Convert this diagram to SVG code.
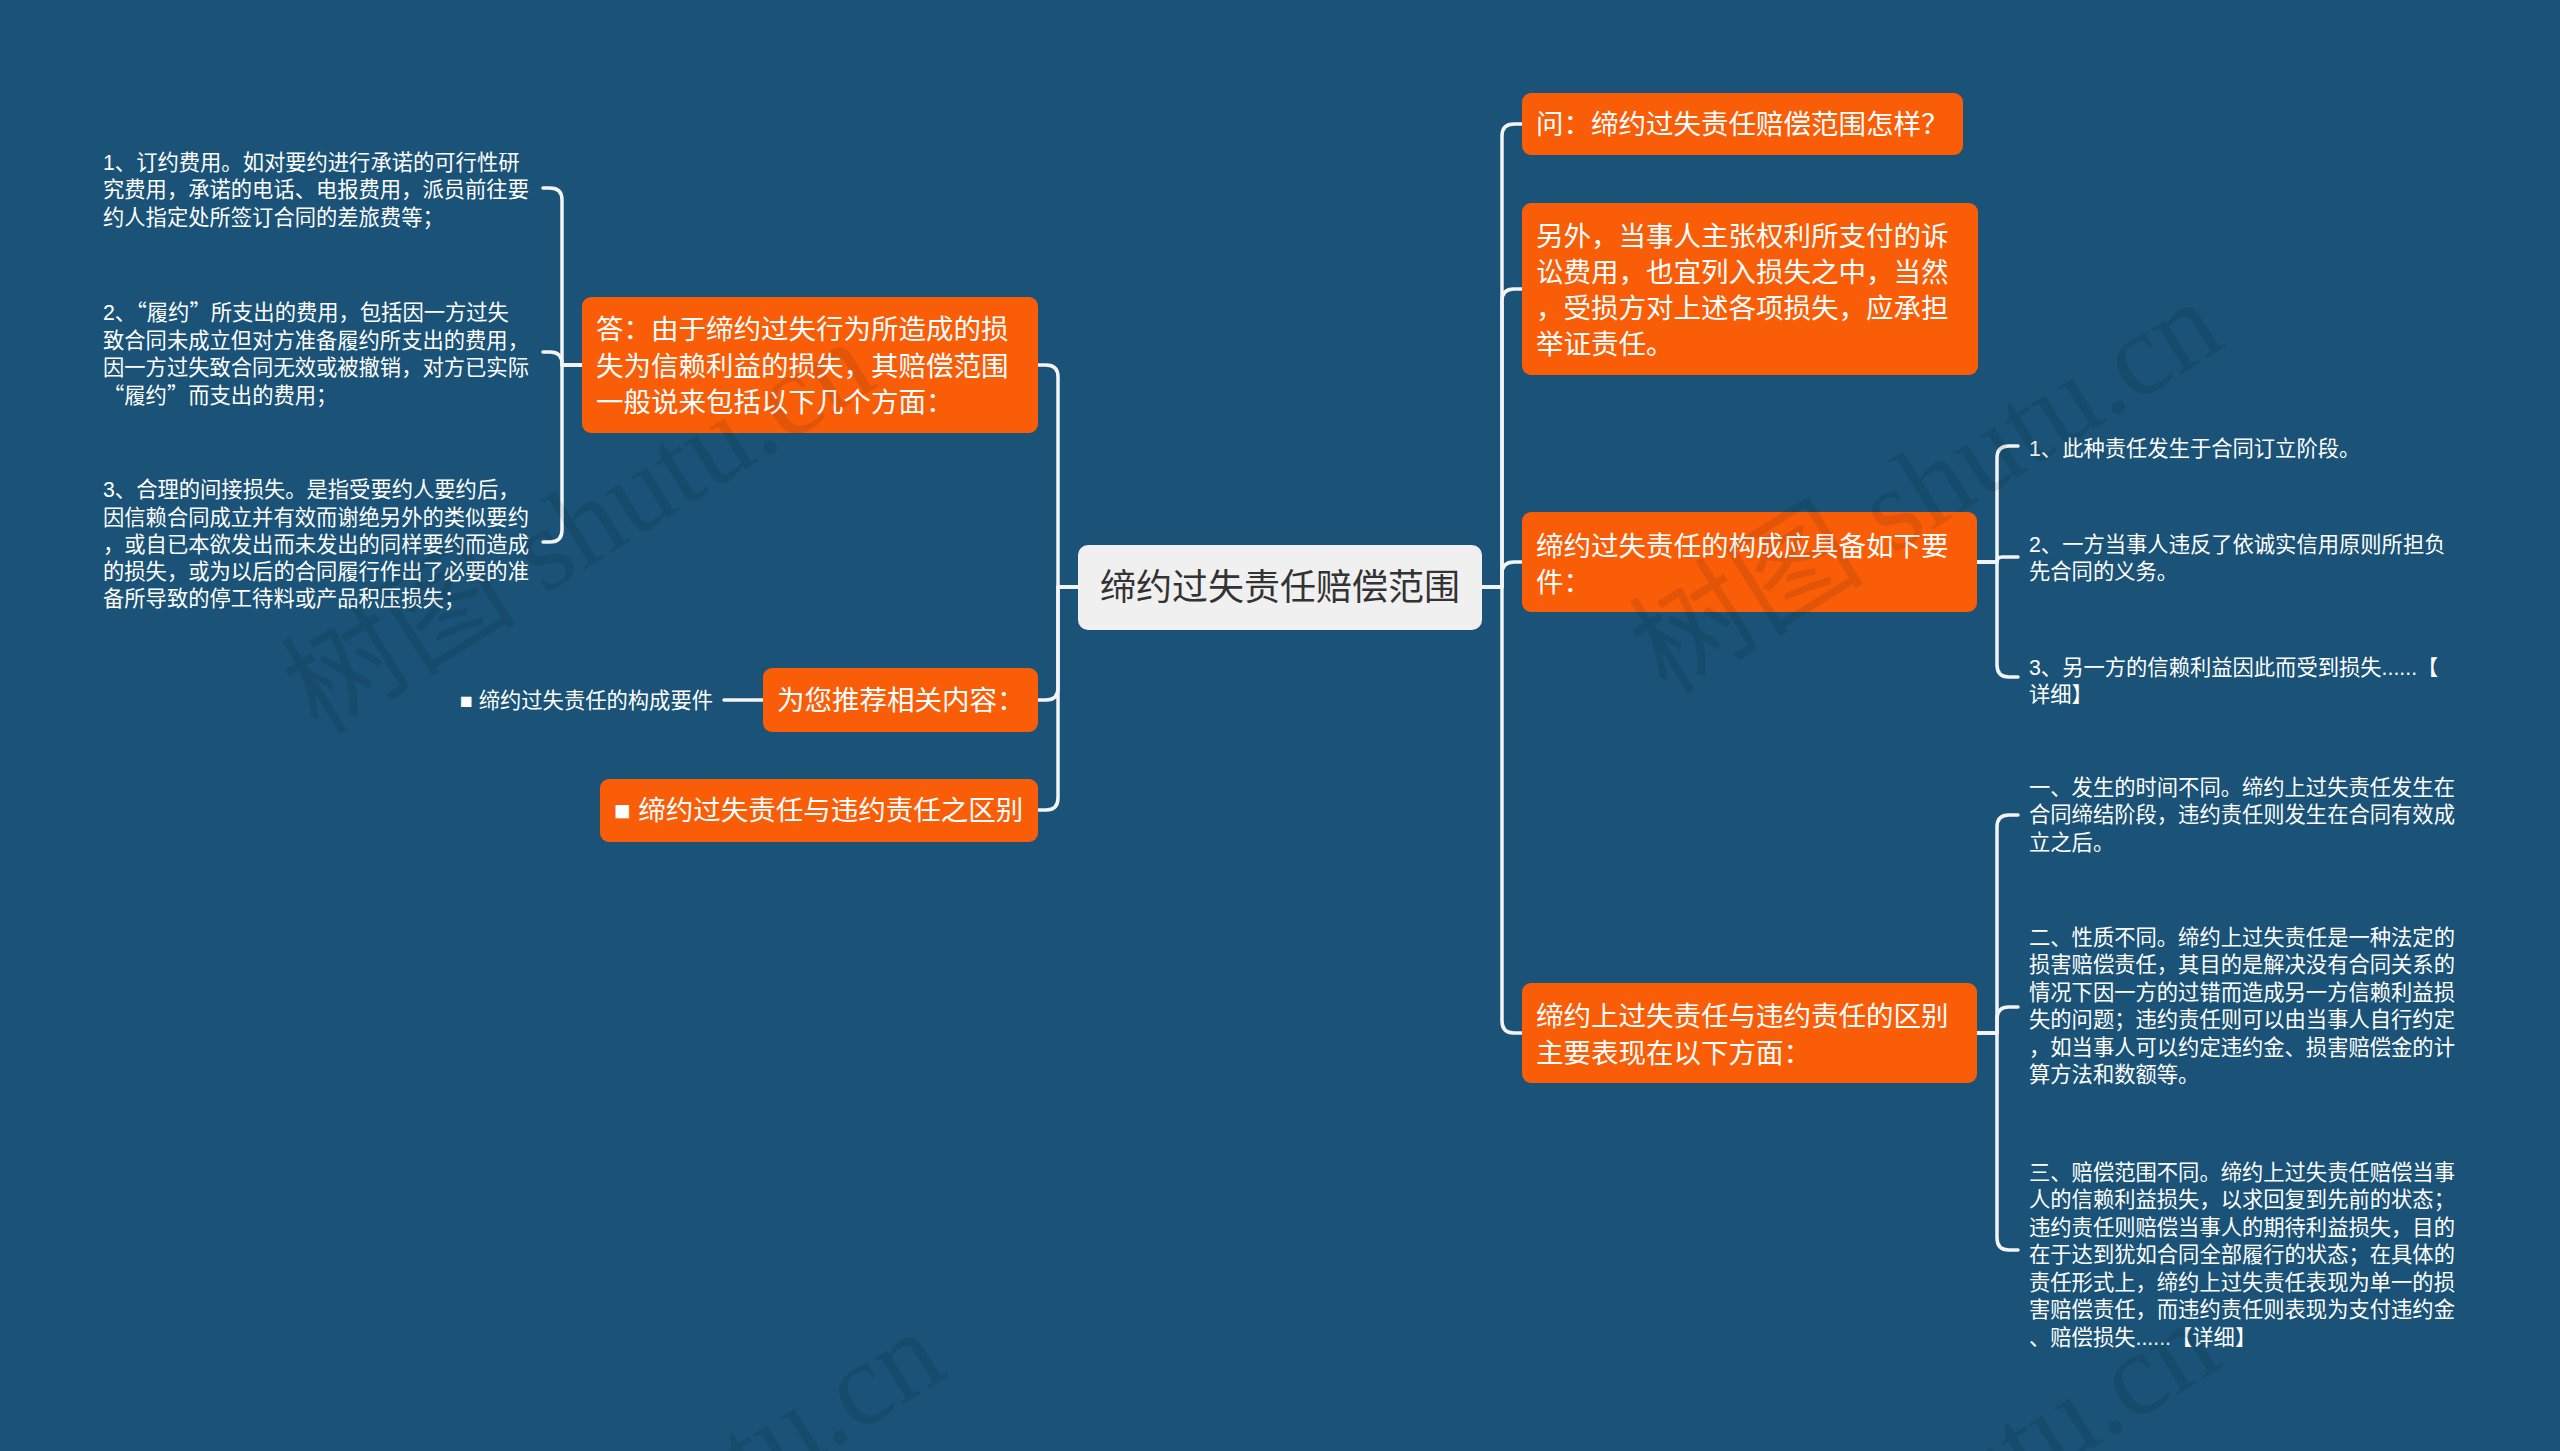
<svg xmlns="http://www.w3.org/2000/svg" width="2560" height="1451" viewBox="0 0 2560 1451">
<style>
.c{fill:none;stroke:#f2f4f6;stroke-width:3.5;stroke-linecap:round;stroke-linejoin:round}
.box{fill:#f95d08}
.t{font-family:"Liberation Sans","Noto Sans CJK SC",sans-serif;font-size:27.5px;fill:#ffffff}
.s{font-family:"Liberation Sans","Noto Sans CJK SC",sans-serif;font-size:21.3px;fill:#ffffff}
.q{font-family:"Noto Sans CJK SC",sans-serif}
.r{font-family:"Liberation Sans","Noto Sans CJK SC",sans-serif;font-size:36px;fill:#333333}
.wm{font-family:"Liberation Serif","Noto Sans CJK SC",serif;font-size:118px;fill:#000000;fill-opacity:0.09}
</style>
<rect x="0" y="0" width="2560" height="1451" fill="#1a5377"/>

<g id="connectors">
<path class="c" d="M1482,587 H1502 V136 Q1502,124 1514,124 H1522"/>
<path class="c" d="M1482,587 H1502 V301 Q1502,289 1514,289 H1522"/>
<path class="c" d="M1482,587 H1502 V574 Q1502,562 1514,562 H1522"/>
<path class="c" d="M1482,587 H1502 V1021 Q1502,1033 1514,1033 H1522"/>
<path class="c" d="M1078,587 H1058 V377 Q1058,365 1046,365 H1038"/>
<path class="c" d="M1078,587 H1058 V688 Q1058,700 1046,700 H1038"/>
<path class="c" d="M1078,587 H1058 V798 Q1058,810 1046,810 H1038"/>
<path class="c" d="M582,365 H562 V200 Q562,188 550,188 H543"/>
<path class="c" d="M582,365 H562 V364 Q562,352 550,352 H543"/>
<path class="c" d="M582,365 H562 V530 Q562,542 550,542 H543"/>
<path class="c" d="M763,700 H724"/>
<path class="c" d="M1977,562 H1997 V458 Q1997,446 2009,446 H2018"/>
<path class="c" d="M1977,562 H1997 Q1997,557 2002,557 H2018"/>
<path class="c" d="M1977,562 H1997 V665 Q1997,677 2009,677 H2018"/>
<path class="c" d="M1977,1033 H1997 V827 Q1997,815 2009,815 H2018"/>
<path class="c" d="M1977,1033 H1997 V1019 Q1997,1007 2009,1007 H2018"/>
<path class="c" d="M1977,1033 H1997 V1238 Q1997,1250 2009,1250 H2018"/>
</g>

<g id="root">
<rect x="1078" y="545" width="404" height="85" rx="10" fill="#f0f0f0"/>
<text class="r" x="1280" y="600" text-anchor="middle">缔约过失责任赔偿范围</text>
</g>

<g id="answer">
<rect class="box" x="582" y="297" width="456" height="136" rx="9"/>
<text class="t" x="596" y="339">答：由于缔约过失行为所造成的损</text>
<text class="t" x="596" y="376">失为信赖利益的损失，其赔偿范围</text>
<text class="t" x="596" y="412">一般说来包括以下几个方面：</text>
</g>

<g id="a1">
<text class="s" x="103" y="169.5">1、订约费用。如对要约进行承诺的可行性研</text>
<text class="s" x="103" y="197">究费用，承诺的电话、电报费用，派员前往要</text>
<text class="s" x="103" y="224.5">约人指定处所签订合同的差旅费等；</text>
</g>
<g id="a2">
<text class="s" x="103" y="320">2、<tspan class="q">“</tspan>履约<tspan class="q">”</tspan>所支出的费用，包括因一方过失</text>
<text class="s" x="103" y="347.5">致合同未成立但对方准备履约所支出的费用，</text>
<text class="s" x="103" y="375">因一方过失致合同无效或被撤销，对方已实际</text>
<text class="s" x="103" y="402.5"><tspan class="q">“</tspan>履约<tspan class="q">”</tspan>而支出的费用；</text>
</g>
<g id="a3">
<text class="s" x="103" y="497">3、合理的间接损失。是指受要约人要约后，</text>
<text class="s" x="103" y="524.5">因信赖合同成立并有效而谢绝另外的类似要约</text>
<text class="s" x="103" y="552">，或自已本欲发出而未发出的同样要约而造成</text>
<text class="s" x="103" y="579">的损失，或为以后的合同履行作出了必要的准</text>
<text class="s" x="103" y="606">备所导致的停工待料或产品积压损失；</text>
</g>

<g id="recommend">
<rect class="box" x="763" y="668" width="275" height="64" rx="9"/>
<text class="t" x="777" y="710">为您推荐相关内容：</text>
</g>
<g id="rec1">
<text class="s" x="713" y="708" text-anchor="end">■ 缔约过失责任的构成要件</text>
</g>
<g id="diff-link">
<rect class="box" x="600" y="779" width="438" height="63" rx="9"/>
<text class="t" x="614" y="820">■ 缔约过失责任与违约责任之区别</text>
</g>

<g id="question">
<rect class="box" x="1522" y="93" width="441" height="62" rx="9"/>
<text class="t" x="1536" y="134">问：缔约过失责任赔偿范围怎样？</text>
</g>

<g id="extra">
<rect class="box" x="1522" y="203" width="456" height="172" rx="9"/>
<text class="t" x="1536" y="246">另外，当事人主张权利所支付的诉</text>
<text class="t" x="1536" y="282">讼费用，也宜列入损失之中，当然</text>
<text class="t" x="1536" y="318">，受损方对上述各项损失，应承担</text>
<text class="t" x="1536" y="354">举证责任。</text>
</g>

<g id="elements">
<rect class="box" x="1522" y="512" width="455" height="100" rx="9"/>
<text class="t" x="1536" y="556">缔约过失责任的构成应具备如下要</text>
<text class="t" x="1536" y="592">件：</text>
</g>
<g id="e1">
<text class="s" x="2029" y="455.5">1、此种责任发生于合同订立阶段。</text>
</g>
<g id="e2">
<text class="s" x="2029" y="551.5">2、一方当事人违反了依诚实信用原则所担负</text>
<text class="s" x="2029" y="579">先合同的义务。</text>
</g>
<g id="e3">
<text class="s" x="2029" y="674.5">3、另一方的信赖利益因此而受到损失......【</text>
<text class="s" x="2029" y="702">详细】</text>
</g>

<g id="difference">
<rect class="box" x="1522" y="983" width="455" height="100" rx="9"/>
<text class="t" x="1536" y="1026">缔约上过失责任与违约责任的区别</text>
<text class="t" x="1536" y="1063">主要表现在以下方面：</text>
</g>
<g id="d1">
<text class="s" x="2029" y="794.5">一、发生的时间不同。缔约上过失责任发生在</text>
<text class="s" x="2029" y="822">合同缔结阶段，违约责任则发生在合同有效成</text>
<text class="s" x="2029" y="849.5">立之后。</text>
</g>
<g id="d2">
<text class="s" x="2029" y="944.5">二、性质不同。缔约上过失责任是一种法定的</text>
<text class="s" x="2029" y="972">损害赔偿责任，其目的是解决没有合同关系的</text>
<text class="s" x="2029" y="999.5">情况下因一方的过错而造成另一方信赖利益损</text>
<text class="s" x="2029" y="1027">失的问题；违约责任则可以由当事人自行约定</text>
<text class="s" x="2029" y="1054.5">，如当事人可以约定违约金、损害赔偿金的计</text>
<text class="s" x="2029" y="1082">算方法和数额等。</text>
</g>
<g id="d3">
<text class="s" x="2029" y="1179.5">三、赔偿范围不同。缔约上过失责任赔偿当事</text>
<text class="s" x="2029" y="1207">人的信赖利益损失，以求回复到先前的状态；</text>
<text class="s" x="2029" y="1234.5">违约责任则赔偿当事人的期待利益损失，目的</text>
<text class="s" x="2029" y="1262">在于达到犹如合同全部履行的状态；在具体的</text>
<text class="s" x="2029" y="1289.5">责任形式上，缔约上过失责任表现为单一的损</text>
<text class="s" x="2029" y="1317">害赔偿责任，而违约责任则表现为支付违约金</text>
<text class="s" x="2029" y="1344.5">、赔偿损失......【详细】</text>
</g>

<g id="watermark">
<text class="wm" x="880" y="385" text-anchor="end" transform="rotate(-32 880 385)">树图 shutu.cn</text>
<text class="wm" x="2228" y="345" text-anchor="end" transform="rotate(-32 2228 345)">树图 shutu.cn</text>
<text class="wm" x="950" y="1375" text-anchor="end" transform="rotate(-32 950 1375)">树图 shutu.cn</text>
<text class="wm" x="2225" y="1365" text-anchor="end" transform="rotate(-32 2225 1365)">树图 shutu.cn</text>
</g>
</svg>
